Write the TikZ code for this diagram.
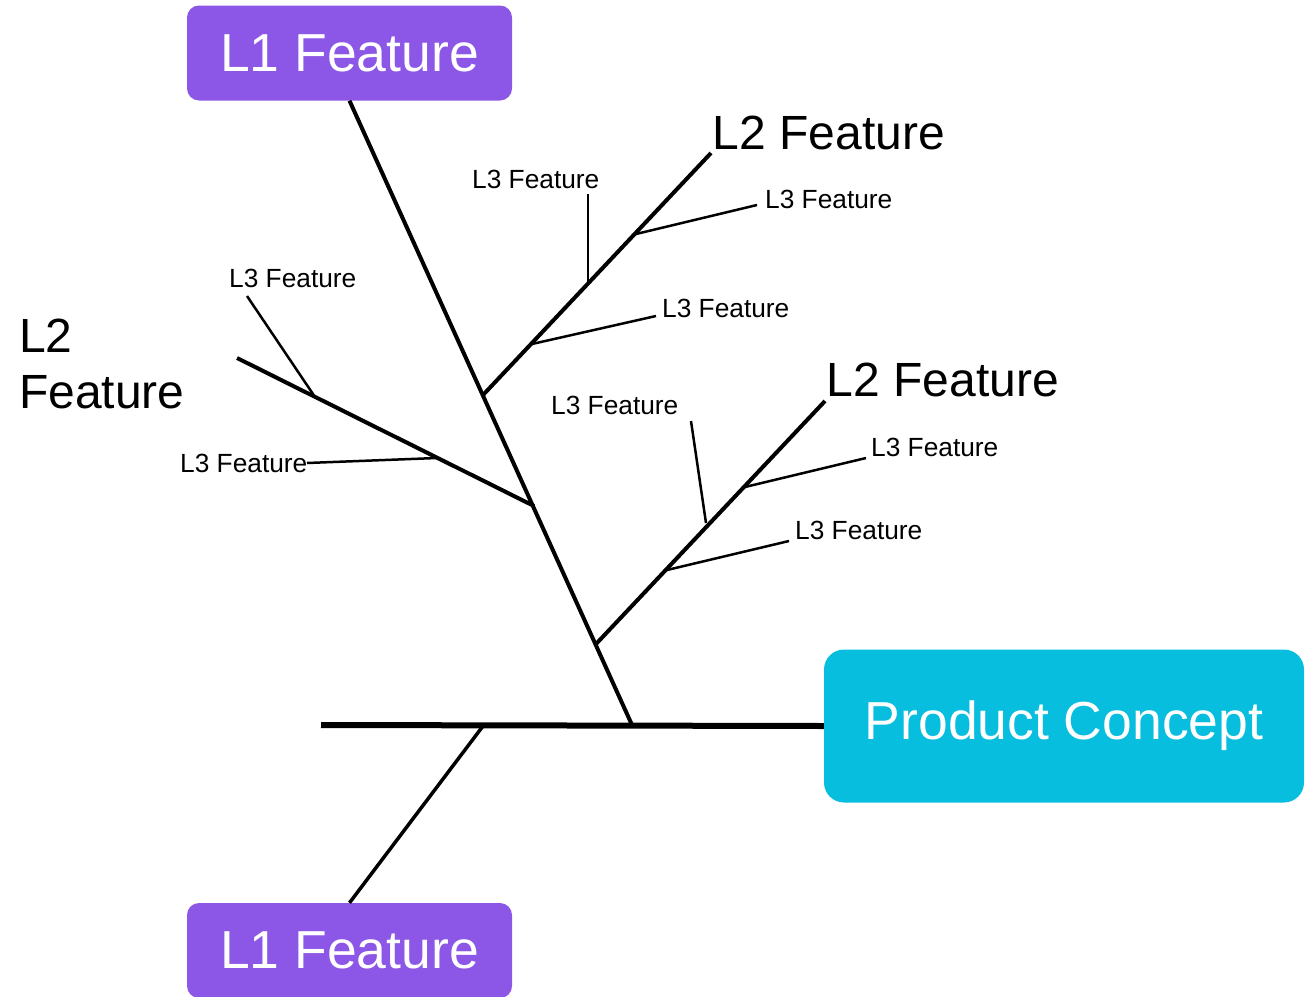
\documentclass[tikz,border=0pt]{standalone}
\usepackage{fontspec}
\setmainfont{Liberation Sans}
\definecolor{featpurple}{HTML}{8C57E6}
\definecolor{conceptcyan}{HTML}{07BEDF}
\tikzset{
  lonebox/.style={fill=featpurple, draw=none, rounded corners=12pt, text=white,
    minimum width=325pt, minimum height=95pt, inner sep=0pt, font=\fontsize{53.5}{60}\selectfont},
  conceptbox/.style={fill=conceptcyan, draw=none, rounded corners=20pt, text=white,
    minimum width=480pt, minimum height=153pt, inner sep=0pt, font=\fontsize{53.5}{60}\selectfont},
  ltwolabel/.style={anchor=base west, inner sep=0pt, font=\fontsize{48}{56}\selectfont},
  lthreelabel/.style={anchor=base west, inner sep=0pt, font=\fontsize{26.3}{30}\selectfont},
  spineline/.style={line width=6pt},
  boneline/.style={line width=4pt},
  twigline/.style={line width=2.5pt},
}
\begin{document}
\begin{tikzpicture}[x=1pt,y=-1pt]
\useasboundingbox (0,0) rectangle (1306,996);
\clip (0,0) rectangle (1306,996);

% main boxes
\node[lonebox] (topL1) at (349.5,53) {L1 Feature};
\node[lonebox] (botL1) at (349.5,950.5) {L1 Feature};
\node[conceptbox] (concept) at (1064,726) {Product Concept};

% spine and main bones
\coordinate (spinetail) at (321,725);
\coordinate (mainfoot) at (632,725);
\coordinate (lowfoot) at (483,726);
\draw[spineline] (spinetail) -- (concept.west);
\draw[boneline] (topL1.south) -- (mainfoot);
\draw[line width=3.5pt] (lowfoot) -- (botL1.north);

% upper right L2 branch
\coordinate (ua) at (483,395);
\coordinate (ub) at (711,153);
\draw[boneline] (ua) -- (ub);
\node[ltwolabel] (ulab) at (712.5,149) {L2 Feature};
\coordinate (uj1) at (588,283);
\coordinate (ue1) at (588,194);
\draw[twigline] (uj1) -- (ue1);
\node[lthreelabel] (ul1) at (472,188) {L3 Feature};
\coordinate (uj2) at (636,234);
\coordinate (ue2) at (757,205);
\draw[twigline] (uj2) -- (ue2);
\node[lthreelabel] (ul2) at (765,208) {L3 Feature};
\coordinate (uj3) at (532,344);
\coordinate (ue3) at (656,316);
\draw[twigline] (uj3) -- (ue3);
\node[lthreelabel] (ul3) at (662,317) {L3 Feature};

% left L2 branch
\coordinate (la) at (237,358);
\coordinate (lb) at (534,506);
\draw[boneline] (la) -- (lb);
\node[ltwolabel] (llab1) at (19,352) {L2};
\node[ltwolabel] (llab2) at (19,408) {Feature};
\coordinate (lj1) at (315,397);
\coordinate (le1) at (247,296);
\draw[twigline] (lj1) -- (le1);
\node[lthreelabel] (ll1) at (229,287) {L3 Feature};
\coordinate (lj2) at (437,458);
\coordinate (le2) at (307,463);
\draw[twigline] (lj2) -- (le2);
\node[lthreelabel] (ll2) at (180,472) {L3 Feature};

% lower right L2 branch
\coordinate (ra) at (596,644);
\coordinate (rb) at (825,401);
\draw[boneline] (ra) -- (rb);
\node[ltwolabel] (rlab) at (826.5,396) {L2 Feature};
\coordinate (rj1) at (706,523);
\coordinate (re1) at (691,421);
\draw[twigline] (rj1) -- (re1);
\node[lthreelabel] (rl1) at (551,414) {L3 Feature};
\coordinate (rj2) at (745,487);
\coordinate (re2) at (866,458);
\draw[twigline] (rj2) -- (re2);
\node[lthreelabel] (rl2) at (871,456) {L3 Feature};
\coordinate (rj3) at (667,570);
\coordinate (re3) at (789,541);
\draw[twigline] (rj3) -- (re3);
\node[lthreelabel] (rl3) at (795,539) {L3 Feature};
\end{tikzpicture}
\end{document}
